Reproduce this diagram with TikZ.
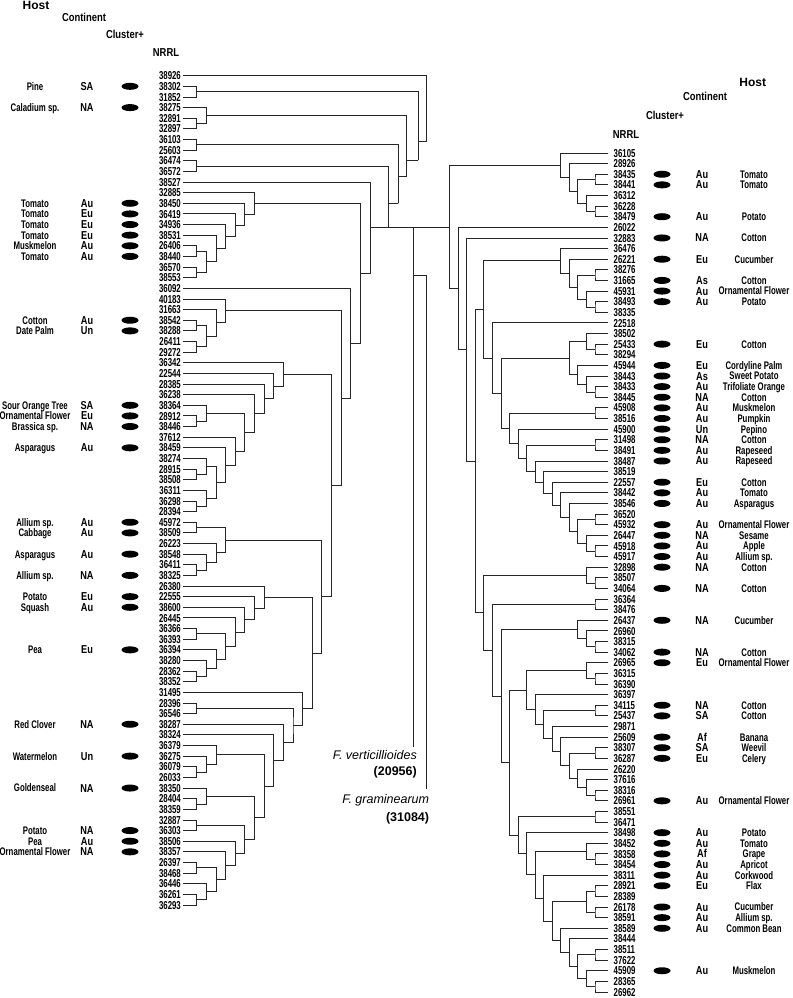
\documentclass[tikz,border=0pt]{standalone}
\usepackage{fontspec}
\setmainfont{Liberation Sans}
\newfontfamily\numf[FakeStretch=0.68]{Liberation Sans}
\newfontfamily\hostf[FakeStretch=0.71]{Liberation Sans}
\newfontfamily\contf[FakeStretch=0.80]{Liberation Sans}
\newfontfamily\hdrf[FakeStretch=0.82]{Liberation Sans}
\usetikzlibrary{calc,shapes.geometric}
\newcommand\LN[4]{\pgfmathsetmacro\myNX{196.7+(#2-1)*9.63}%
 \path let \p1=($(#3)!.5!(#4)$) in (\myNX pt,\y1) coordinate (#1);%
 \draw[br] (#3) -| (#1) |- (#4);}
\newcommand\RN[4]{\pgfmathsetmacro\myNX{595-(#2-1)*8.55}%
 \path let \p1=($(#3)!.5!(#4)$) in (\myNX pt,\y1) coordinate (#1);%
 \draw[br] (#3) -| (#1) |- (#4);}
\begin{document}
\begin{tikzpicture}[x=1pt,y=-1pt,
 br/.style={line width=0.9pt,draw=black!85},
 num/.style={font=\numf\bfseries\fontsize{11.5}{12}\selectfont,inner sep=0pt},
 host/.style={font=\hostf\bfseries\fontsize{11}{12}\selectfont,inner sep=0pt,anchor=base},
 cont/.style={font=\contf\bfseries\fontsize{11.5}{12}\selectfont,inner sep=0pt,anchor=base},
 blob/.style={ellipse,fill=black,draw=none,minimum width=17pt,minimum height=7pt,inner sep=0pt},
 hdrH/.style={font=\bfseries\fontsize{12}{14}\selectfont,inner sep=0pt,anchor=base},
 hdr/.style={font=\hdrf\bfseries\fontsize{11.5}{13}\selectfont,inner sep=0pt,anchor=base},
 ogi/.style={font=\itshape\fontsize{12.5}{14}\selectfont,inner sep=0pt,anchor=base east},
 ogb/.style={font=\bfseries\fontsize{12.5}{14}\selectfont,inner sep=0pt,anchor=base east}]
\useasboundingbox (0,0) rectangle (792,998);
\fill[white] (0,0) rectangle (792,998);
% headers
\node[hdrH] (hostL) at (36,9.5) {Host};
\node[hdr] (contL) at (84,21.5) {Continent};
\node[hdr] (clusL) at (125,38.5) {Cluster+};
\node[hdr] (nrrlL) at (166,56.5) {NRRL};
\node[hdrH] (hostR) at (752.7,86) {Host};
\node[hdr] (contR) at (705,100) {Continent};
\node[hdr] (clusR) at (665,119.3) {Cluster+};
\node[hdr] (nrrlR) at (626,138.3) {NRRL};
% left leaves
\foreach \n [count=\i] in {38926,38302,31852,38275,32891,32897,36103,25603,36474,36572,
38527,32885,38450,36419,34936,38531,26406,38440,36570,38553,
36092,40183,31663,38542,38288,26411,29272,36342,22544,28385,
36238,38364,28912,38446,37612,38459,38274,28915,38508,36311,
36298,28394,45972,38509,26223,38548,36411,38325,26380,22555,
38600,26445,36366,36393,36394,38280,28362,38352,31495,28396,
36546,38287,38324,36379,36275,36079,26033,38350,28404,38359,
32887,36303,38506,38357,26397,38468,36446,36261,36293}{
 \pgfmathsetmacro\yy{75.7+(\i-1)*10.632}
 \coordinate (l\i) at (183.3,\yy);
 \node[num,anchor=base east] (ln\i) at (181,\yy+4.1) {\n};
}
% right leaves
\foreach \n [count=\i] in {36105,28926,38435,38441,36312,36228,38479,26022,32883,36476,
26221,38276,31665,45931,38493,38335,22518,38502,25433,38294,
45944,38443,38433,38445,45908,38516,45900,31498,38491,38487,
38519,22557,38442,38546,36520,45932,26447,45918,45917,32898,
38507,34064,36364,38476,26437,26960,38315,34062,26965,36315,
36390,36397,34115,25437,29871,25609,38307,36287,26220,37616,
38316,26961,38551,36471,38498,38452,38358,38454,38311,28921,
28389,26178,38591,38589,38444,38511,37622,45909,28365,26962}{
 \pgfmathsetmacro\yy{153+(\i-1)*10.62}
 \coordinate (r\i) at (608.3,\yy);
 \node[num,anchor=base west] (rn\i) at (613.5,\yy+4.1) {\n};
}
% left data
\foreach \r/\h/\c in {2/Pine/SA,4/Caladium sp./NA,13/Tomato/Au,14/Tomato/Eu,15/Tomato/Eu,16/Tomato/Eu,
17/Muskmelon/Au,18/Tomato/Au,24/Cotton/Au,25/Date Palm/Un,32/Sour Orange Tree/SA,
33/Ornamental Flower/Eu,34/Brassica sp./NA,36/Asparagus/Au,43/Allium sp./Au,44/Cabbage/Au,
46/Asparagus/Au,48/Allium sp./NA,50/Potato/Eu,51/Squash/Au,55/Pea/Eu,62/Red Clover/NA,
65/Watermelon/Un,68/Goldenseal/NA,72/Potato/NA,73/Pea/Au,74/Ornamental Flower/NA}{
 \pgfmathsetmacro\yy{75.7+(\r-1)*10.632}
 \node[host] (lh\r) at (35,\yy+3.9) {\h};
 \node[cont] (lc\r) at (87,\yy+4) {\c};
 \node[blob] (le\r) at (130,\yy) {};
}
% right data
\foreach \r/\c/\h in {3/Au/Tomato,4/Au/Tomato,7/Au/Potato,9/NA/Cotton,11/Eu/Cucumber,13/As/Cotton,
14/Au/Ornamental Flower,15/Au/Potato,19/Eu/Cotton,21/Eu/Cordyline Palm,22/As/Sweet Potato,
23/Au/Trifoliate Orange,24/NA/Cotton,25/Au/Muskmelon,26/Au/Pumpkin,27/Un/Pepino,28/NA/Cotton,
29/Au/Rapeseed,30/Au/Rapeseed,32/Eu/Cotton,33/Au/Tomato,34/Au/Asparagus,36/Au/Ornamental Flower,
37/NA/Sesame,38/Au/Apple,39/Au/Allium sp.,40/NA/Cotton,42/NA/Cotton,45/NA/Cucumber,48/NA/Cotton,
49/Eu/Ornamental Flower,53/NA/Cotton,54/SA/Cotton,56/Af/Banana,57/SA/Weevil,58/Eu/Celery,
62/Au/Ornamental Flower,65/Au/Potato,66/Au/Tomato,67/Af/Grape,68/Au/Apricot,69/Au/Corkwood,
70/Eu/Flax,72/Au/Cucumber,73/Au/Allium sp.,74/Au/Common Bean,78/Au/Muskmelon}{
 \pgfmathsetmacro\yy{153+(\r-1)*10.62}
 \node[blob] (re\r) at (662,\yy) {};
 \node[cont] (rc\r) at (702,\yy+4) {\c};
 \node[host] (rh\r) at (754,\yy+3.9) {\h};
}
% ---- left tree
\LN{p23}{1}{l2}{l3}
\LN{p56}{1}{l5}{l6}
\LN{n456}{2}{l4}{p56}
\LN{p78}{1}{l7}{l8}
\LN{p910}{1}{l9}{l10}
\LN{p1718}{1}{l17}{l18}
\LN{p1920}{1}{l19}{l20}
\LN{A2}{2}{p1718}{p1920}
\LN{A3}{3}{l16}{A2}
\LN{A4}{4}{l15}{A3}
\LN{A5}{5}{l14}{A4}
\LN{A6}{6}{l13}{A5}
\LN{A7}{7}{l12}{A6}
\LN{p2425}{1}{l24}{l25}
\LN{p2627}{1}{l26}{l27}
\LN{B2}{2}{p2425}{p2627}
\LN{B3}{3}{l23}{B2}
\LN{B4}{4}{l22}{B3}
\LN{p3334}{1}{l33}{l34}
\LN{C2a}{2}{l32}{p3334}
\LN{p3839}{1}{l38}{l39}
\LN{C2b}{2}{l37}{p3839}
\LN{p4142}{1}{l41}{l42}
\LN{C2c}{2}{l40}{p4142}
\LN{C3}{3}{C2b}{C2c}
\LN{C4}{4}{l36}{C3}
\LN{C5}{5}{l35}{C4}
\LN{C6}{6}{C2a}{C5}
\LN{C7}{7}{l31}{C6}
\LN{C8}{8}{l30}{C7}
\LN{C9}{9}{l29}{C8}
\LN{C10}{10}{l28}{C9}
\LN{p4344}{1}{l43}{l44}
\LN{p4748}{1}{l47}{l48}
\LN{D2}{2}{l46}{p4748}
\LN{D3}{3}{l45}{D2}
\LN{D4}{4}{p4344}{D3}
\LN{p5354}{1}{l53}{l54}
\LN{p5758}{1}{l57}{l58}
\LN{E2}{2}{l56}{p5758}
\LN{E3}{3}{l55}{E2}
\LN{E4}{4}{p5354}{E3}
\LN{E5}{5}{l52}{E4}
\LN{E6}{6}{l51}{E5}
\LN{E7}{7}{l50}{E6}
\LN{E8}{8}{l49}{E7}
\LN{p6061}{1}{l60}{l61}
\LN{p6667}{1}{l66}{l67}
\LN{F2}{2}{l65}{p6667}
\LN{F3}{3}{l64}{F2}
\LN{p6970}{1}{l69}{l70}
\LN{G2}{2}{l68}{p6970}
\LN{p7172}{1}{l71}{l72}
\LN{p7576}{1}{l75}{l76}
\LN{p7879}{1}{l78}{l79}
\LN{H2}{2}{l77}{p7879}
\LN{H3}{3}{p7576}{H2}
\LN{H4}{4}{l74}{H3}
\LN{H5}{5}{l73}{H4}
\LN{H6}{6}{p7172}{H5}
\LN{H7}{7}{G2}{H6}
\LN{H8}{8}{F3}{H7}
\LN{H9}{9}{l63}{H8}
\LN{H10}{10}{l62}{H9}
\LN{H11}{11}{p6061}{H10}
\LN{H12}{12}{l59}{H11}
\LN{K13}{13}{E8}{H12}
\LN{K14}{14}{D4}{K13}
\LN{K15}{15}{C10}{K14}
\LN{K16}{16}{B4}{K15}
\LN{K17}{17}{l21}{K16}
\LN{K18}{18}{A7}{K17}
\LN{K19}{19}{l11}{K18}
% top ladder
\coordinate (N830) at (426.7,141.7);
\coordinate (N805) at (418.3,160);
\coordinate (N770) at (406.7,176.7);
\coordinate (N745) at (398.3,203.3);
\path let \p1=(K19) in (388.3pt,\y1) coordinate (N715);
\draw[br] (N830) |- (l1);
\draw[br] (p23) -| (N805) |- (N830);
\draw[br] (n456) -| (N770) |- (N805);
\draw[br] (p78) -| (N745) |- (N770);
\draw[br] (p910) -| (N715) |- (N745);
% ---- right tree
\RN{q34}{1}{r3}{r4}
\RN{q67}{1}{r6}{r7}
\RN{t2}{2}{r5}{q67}
\RN{t3}{3}{q34}{t2}
\RN{t4}{4}{r2}{t3}
\RN{t5}{5}{r1}{t4}
\RN{q1213}{1}{r12}{r13}
\RN{q1516}{1}{r15}{r16}
\RN{m2}{2}{r14}{q1516}
\RN{m3}{3}{q1213}{m2}
\RN{m4}{4}{r11}{m3}
\RN{m5}{5}{r10}{m4}
\RN{q1920}{1}{r19}{r20}
\RN{a2}{2}{r18}{q1920}
\RN{q2324}{1}{r23}{r24}
\RN{b2}{2}{r22}{q2324}
\RN{b3}{3}{r21}{b2}
\RN{a4}{4}{a2}{b3}
\RN{q2526}{1}{r25}{r26}
\RN{q2829}{1}{r28}{r29}
\RN{q3536}{1}{r35}{r36}
\RN{q3839}{1}{r38}{r39}
\RN{c2}{2}{r37}{q3839}
\RN{c3}{3}{q3536}{c2}
\RN{c4}{4}{r34}{c3}
\RN{c5}{5}{r33}{c4}
\RN{c6}{6}{r32}{c5}
\RN{c7}{7}{r31}{c6}
\RN{c8}{8}{r30}{c7}
\RN{c9}{9}{q2829}{c8}
\RN{c10}{10}{r27}{c9}
\RN{c11}{11}{q2526}{c10}
\RN{c12}{12}{a4}{c11}
\RN{c13}{13}{r17}{c12}
\RN{c14}{14}{m5}{c13}
\RN{q4142}{1}{r41}{r42}
\RN{d2}{2}{r40}{q4142}
\RN{q4344}{1}{r43}{r44}
\RN{q4748}{1}{r47}{r48}
\RN{e2}{2}{r46}{q4748}
\RN{e3}{3}{r45}{e2}
\RN{q5051}{1}{r50}{r51}
\RN{f2}{2}{r49}{q5051}
\RN{q5354}{1}{r53}{r54}
\RN{q5758}{1}{r57}{r58}
\RN{q6162}{1}{r61}{r62}
\RN{g2}{2}{r60}{q6162}
\RN{g3}{3}{r59}{g2}
\RN{g4}{4}{q5758}{g3}
\RN{g5}{5}{r56}{g4}
\RN{g6}{6}{r55}{g5}
\RN{g7}{7}{q5354}{g6}
\RN{g8}{8}{r52}{g7}
\RN{g9}{9}{f2}{g8}
\RN{q6364}{1}{r63}{r64}
\RN{q6768}{1}{r67}{r68}
\RN{h2}{2}{r66}{q6768}
\RN{q7071}{1}{r70}{r71}
\RN{q7273}{1}{r72}{r73}
\RN{i2}{2}{q7071}{q7273}
\RN{q7677}{1}{r76}{r77}
\RN{q7980}{1}{r79}{r80}
\RN{j2}{2}{r78}{q7980}
\RN{j3}{3}{q7677}{j2}
\RN{j4}{4}{r75}{j3}
\RN{j5}{5}{r74}{j4}
\RN{j6}{6}{i2}{j5}
\RN{j7}{7}{r69}{j6}
\RN{h8}{8}{h2}{j7}
\RN{h9}{9}{r65}{h8}
\RN{h10}{10}{q6364}{h9}
\RN{e11}{11}{g9}{h10}
\RN{e12}{12}{e3}{e11}
\RN{d13}{13}{q4344}{e12}
\RN{d14}{14}{d2}{d13}
\RN{k15}{15}{c14}{d14}
\RN{k16}{16}{r9}{k15}
\RN{k17}{17}{r8}{k16}
\RN{Rroot}{18}{t5}{k17}
% root line and outgroups
\draw[br] (K19) -- (K19 -| Rroot);
\coordinate (FVend) at (413,747);
\coordinate (FGend) at (426.5,789);
\coordinate (FGj) at (413,275);
\draw[br] (FVend |- K19) -- (FVend);
\draw[br] (FGj) -| (FGend);
\node[ogi] (fvname) at (417,759) {F. verticillioides};
\node[ogb] (fvnum) at (417,775.5) {(20956)};
\node[ogi] (fgname) at (429.3,803) {F. graminearum};
\node[ogb] (fgnum) at (429.3,821) {(31084)};
\end{tikzpicture}
\end{document}
